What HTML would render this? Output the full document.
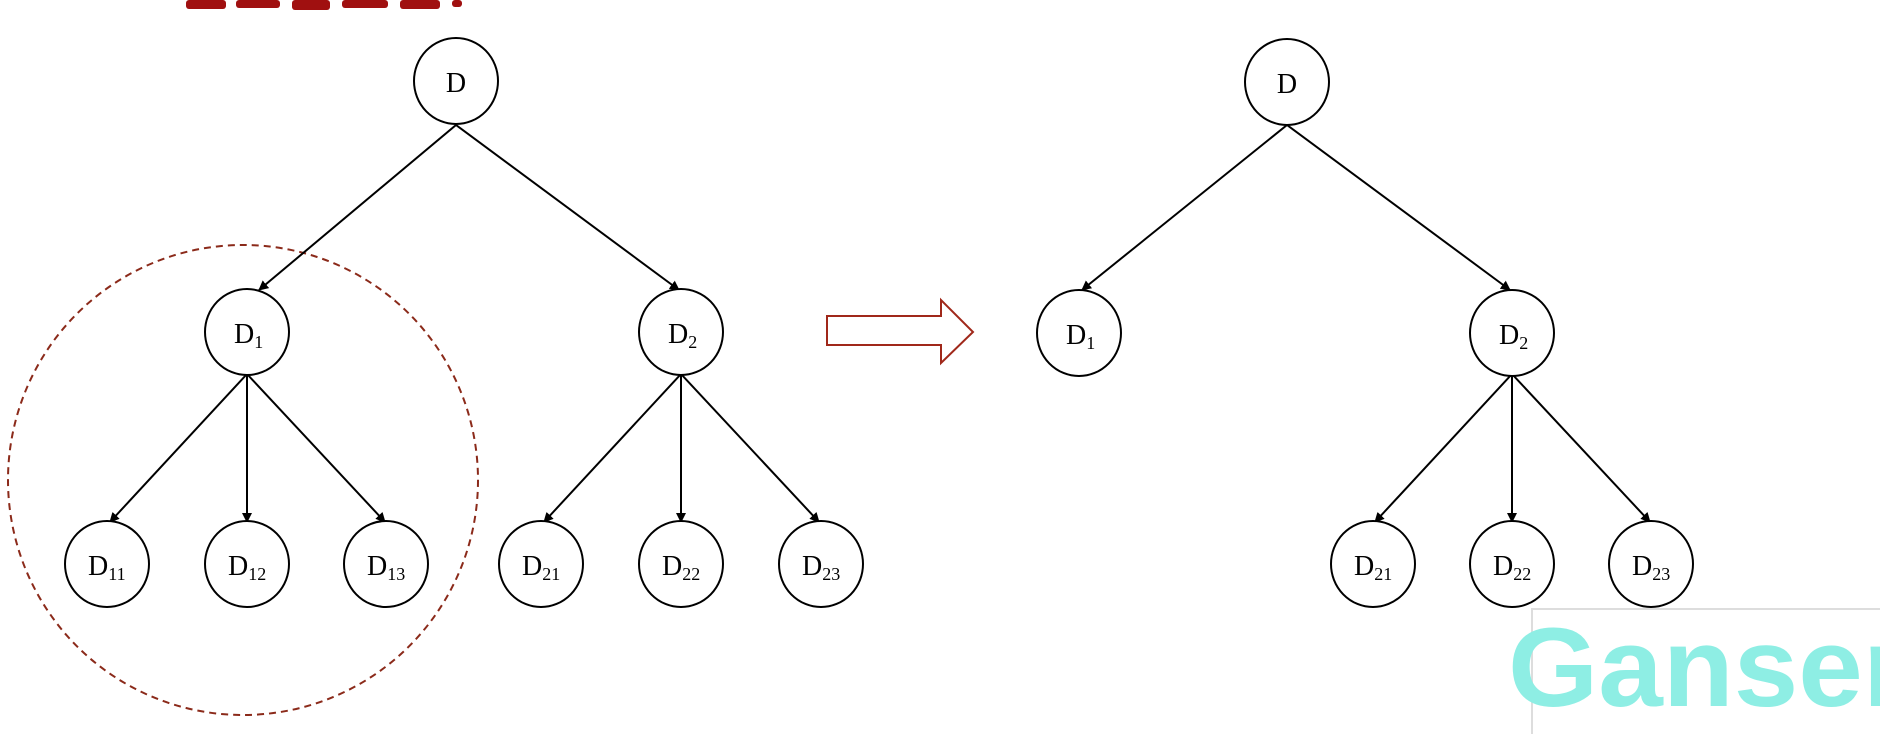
<!DOCTYPE html>
<html><head><meta charset="utf-8"><style>
html,body{margin:0;padding:0;background:#fff;width:1880px;height:734px;overflow:hidden}
svg{display:block}
text{font-family:"Liberation Serif",serif;fill:#000}
</style></head><body>
<svg width="1880" height="734" viewBox="0 0 1880 734">
<defs>
<marker id="a" markerWidth="10" markerHeight="10" refX="9" refY="5" orient="auto" markerUnits="userSpaceOnUse">
<path d="M0,0 L10,5 L0,10 Z" fill="#000"/>
</marker>
</defs>
<g fill="#a01010">
<rect x="186" y="0" width="40" height="9" rx="3"/>
<rect x="236" y="0" width="44" height="8" rx="3"/>
<rect x="292" y="0" width="38" height="10" rx="3"/>
<rect x="342" y="0" width="46" height="8" rx="3"/>
<rect x="400" y="0" width="40" height="9" rx="3"/>
<rect x="452" y="0" width="10" height="7" rx="3"/>
</g>
<ellipse cx="243" cy="480" rx="235" ry="235" fill="none" stroke="#8b2a1a" stroke-width="2" stroke-dasharray="7,5"/>
<g stroke="#000" stroke-width="2" fill="none">
<line x1="456" y1="125" x2="259" y2="290" marker-end="url(#a)"/>
<line x1="456" y1="125" x2="679" y2="290" marker-end="url(#a)"/>
<line x1="247" y1="374" x2="110" y2="522" marker-end="url(#a)"/>
<line x1="247" y1="374" x2="247" y2="522" marker-end="url(#a)"/>
<line x1="247" y1="374" x2="385" y2="522" marker-end="url(#a)"/>
<line x1="681" y1="374" x2="544" y2="522" marker-end="url(#a)"/>
<line x1="681" y1="374" x2="681" y2="522" marker-end="url(#a)"/>
<line x1="681" y1="374" x2="819" y2="522" marker-end="url(#a)"/>
<line x1="1287" y1="125" x2="1082" y2="290" marker-end="url(#a)"/>
<line x1="1287" y1="125" x2="1510" y2="290" marker-end="url(#a)"/>
<line x1="1512" y1="374" x2="1375" y2="522" marker-end="url(#a)"/>
<line x1="1512" y1="374" x2="1512" y2="522" marker-end="url(#a)"/>
<line x1="1512" y1="374" x2="1650" y2="522" marker-end="url(#a)"/>
</g>
<g stroke="#000" stroke-width="2" fill="#fff">
<ellipse cx="456" cy="81" rx="42" ry="43"/>
<ellipse cx="247" cy="332" rx="42" ry="43"/>
<ellipse cx="681" cy="332" rx="42" ry="43"/>
<ellipse cx="107" cy="564" rx="42" ry="43"/>
<ellipse cx="247" cy="564" rx="42" ry="43"/>
<ellipse cx="386" cy="564" rx="42" ry="43"/>
<ellipse cx="541" cy="564" rx="42" ry="43"/>
<ellipse cx="681" cy="564" rx="42" ry="43"/>
<ellipse cx="821" cy="564" rx="42" ry="43"/>
<ellipse cx="1287" cy="82" rx="42" ry="43"/>
<ellipse cx="1079" cy="333" rx="42" ry="43"/>
<ellipse cx="1512" cy="333" rx="42" ry="43"/>
<ellipse cx="1373" cy="564" rx="42" ry="43"/>
<ellipse cx="1512" cy="564" rx="42" ry="43"/>
<ellipse cx="1651" cy="564" rx="42" ry="43"/>
</g>
<g font-size="28">
<text x="456" y="92" text-anchor="middle">D</text>
<text x="234" y="343">D<tspan font-size="18" dy="5">1</tspan></text>
<text x="668" y="343">D<tspan font-size="18" dy="5">2</tspan></text>
<text x="88" y="575">D<tspan font-size="18" dy="5">11</tspan></text>
<text x="228" y="575">D<tspan font-size="18" dy="5">12</tspan></text>
<text x="367" y="575">D<tspan font-size="18" dy="5">13</tspan></text>
<text x="522" y="575">D<tspan font-size="18" dy="5">21</tspan></text>
<text x="662" y="575">D<tspan font-size="18" dy="5">22</tspan></text>
<text x="802" y="575">D<tspan font-size="18" dy="5">23</tspan></text>
<text x="1287" y="93" text-anchor="middle">D</text>
<text x="1066" y="344">D<tspan font-size="18" dy="5">1</tspan></text>
<text x="1499" y="344">D<tspan font-size="18" dy="5">2</tspan></text>
<text x="1354" y="575">D<tspan font-size="18" dy="5">21</tspan></text>
<text x="1493" y="575">D<tspan font-size="18" dy="5">22</tspan></text>
<text x="1632" y="575">D<tspan font-size="18" dy="5">23</tspan></text>
</g>
<polygon points="827,316 941,316 941,300 973,332 941,363 941,345 827,345" fill="#fff" stroke="#a0281a" stroke-width="2"/>
<rect x="1532" y="609" width="360" height="140" fill="#fff" stroke="#ddd" stroke-width="2"/>
<text x="1508" y="706" style="font-family:'Liberation Sans',sans-serif;fill:#8eeee4;font-size:112px;font-weight:bold" textLength="400" lengthAdjust="spacingAndGlyphs">Ganser</text>
</svg>
</body></html>
